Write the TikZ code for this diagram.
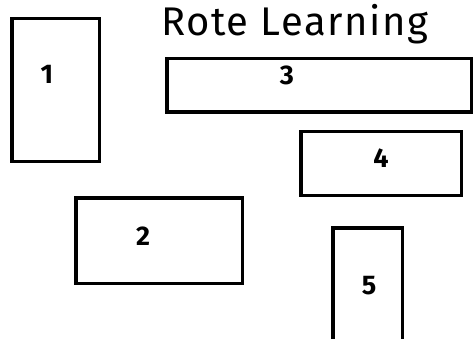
\documentclass[tikz,border=0pt]{standalone}
\usepackage{fontspec}
\setmainfont{Fira Sans}
\begin{document}
\begin{tikzpicture}[x=1pt,y=-1pt,line width=3.5pt,
	num/.style={font=\fontsize{27}{27}\selectfont\bfseries}]
	\useasboundingbox (0,0) rectangle (473,339);
	% title
		\node (title) at (295,24) {\addfontfeature{LetterSpace=4}\fontsize{40}{40}\selectfont Rote Learning};
	% boxes
		\draw (11.75,18.75) rectangle (99.25,161.25);
		\draw (166.75,58.75) rectangle (471.25,112.25);
		\draw (300.75,131.75) rectangle (461.25,195.25);
		\draw (75.75,197.75) rectangle (242.25,283.25);
		\draw (332.75,227.75) rectangle (402.25,345);
	% numbers
		\node[num] (one) at (47,74) {1};
		\node[num] (three) at (287,75) {3};
		\node[num] (four) at (381,158) {4};
		\node[num] (two) at (143,236) {2};
		\node[num] (five) at (369,286) {5};
\end{tikzpicture}
\end{document}
